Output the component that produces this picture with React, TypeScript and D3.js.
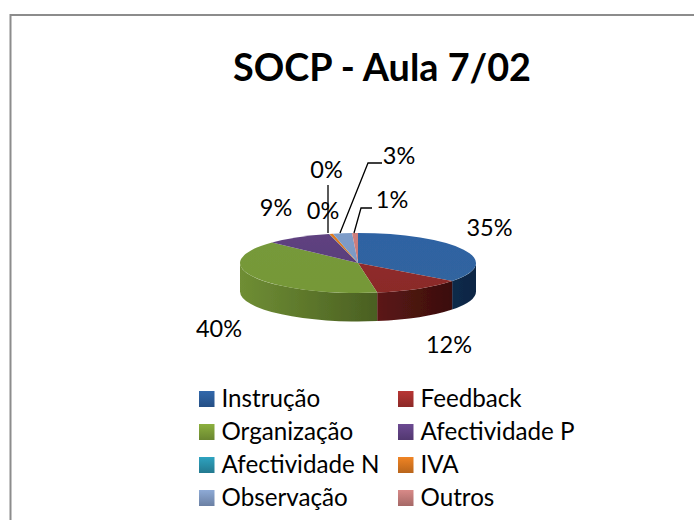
import React from "react";
import * as d3 from "d3";

const categories = ["Instrução", "Feedback", "Organização", "Afectividade P", "Afectividade N", "IVA", "Observação", "Outros"];
const values = [35.3, 12.1, 39.6, 9.05, 0.05, 0.5, 2.6, 0.8];
const percentLabels = ["35%", "12%", "40%", "9%", "0%", "0%", "3%", "1%"];
const topColors = ["#2f62a3", "#8f2c2a", "#76993a", "#5f4280", "#2b8fa8", "#e07a20", "#7d9cc9", "#cf7f7d"];
const topColorsDark = ["#30659f", "#8a2a28", "#769838", "#5a3e7c", "#2b8fa8", "#d8741c", "#7b99c4", "#c97a78"];
const wallLight = ["#102a4a", "#5c1614", "#6f8e34", "#3d2a55", "#1d5f70", "#8a4a12", "#4c6288", "#7f4a48"];
const wallDark = ["#0e2644", "#3a0f0e", "#4a5f22", "#3d2a55", "#1d5f70", "#8a4a12", "#4c6288", "#7f4a48"];
const legendTop = ["#3268ab", "#b83634", "#8cb03e", "#6c4a92", "#2ea3c0", "#f08424", "#8eaad6", "#d88a88"];
const legendBottom = ["#254f85", "#8c2927", "#6a8630", "#523870", "#23798f", "#b9651b", "#6b80a3", "#a56866"];

const CX = 358, CY = 263, RX = 118, RY = 30, DEPTH = 28.5;
const FONT = "Lato, Carlito, sans-serif";

const pieGen = d3.pie<number>().sort(null).startAngle(0).endAngle(2 * Math.PI);
const arcs = pieGen(values);
const arcGen = d3.arc<d3.PieArcDatum<number>>().innerRadius(0).outerRadius(RX);

const px = (a: number) => CX + RX * Math.sin(a);
const py = (a: number) => CY - RY * Math.cos(a);

function wallPath(a0: number, a1: number) {
  const s = Math.max(a0, Math.PI / 2);
  const e = Math.min(a1, (3 * Math.PI) / 2);
  if (e <= s) return null;
  return {
    s, e,
    d: `M${px(s)},${py(s)} A${RX},${RY} 0 0 1 ${px(e)},${py(e)} L${px(e)},${py(e) + DEPTH} A${RX},${RY} 0 0 0 ${px(s)},${py(s) + DEPTH} Z`,
  };
}

const dataLabels = [
  { x: 489.5, y: 236 },
  { x: 449, y: 353 },
  { x: 219, y: 336.5 },
  { x: 276, y: 216 },
  { x: 326.5, y: 178 },
  { x: 323, y: 219 },
  { x: 399, y: 164 },
  { x: 392, y: 208 },
];
const leaderLines = [
  { i: 4, pts: [[328, 185], [328, 233]] },
  { i: 6, pts: [[382, 163], [368, 163], [340, 233]] },
  { i: 7, pts: [[372, 208], [361, 208], [354, 233]] },
];

const legendCols = [199, 398];
const legendRows = [391, 424, 457, 490];

export default function App() {
  return (
    <svg width={694} height={520} style={{ position: "absolute", left: 0, top: 0, background: "#fff" }}>
      <defs>
        {categories.map((c, i) => (
          <linearGradient key={c} id={`lg${i}`} x1="0" y1="0" x2="0" y2="1">
            <stop offset="0" stopColor={legendTop[i]} />
            <stop offset="1" stopColor={legendBottom[i]} />
          </linearGradient>
        ))}
        {categories.map((c, i) => (
          <linearGradient key={c} id={`w${i}`} x1="0" y1="0" x2="1" y2="0">
            <stop offset="0" stopColor={wallLight[i]} />
            <stop offset="1" stopColor={wallDark[i]} />
          </linearGradient>
        ))}
        {categories.map((c, i) => (
          <linearGradient key={c} id={`t${i}`} x1="0" y1="0" x2="0" y2="1">
            <stop offset="0" stopColor={topColors[i]} />
            <stop offset="1" stopColor={topColorsDark[i]} />
          </linearGradient>
        ))}
        <filter id="soft" x="-5%" y="-5%" width="110%" height="110%">
          <feGaussianBlur stdDeviation="0.6" />
        </filter>
      </defs>
      <path d="M10.5,694 L10.5,15 L694,15" fill="none" stroke="#8c8c8c" strokeWidth={2} />
      <text x={233} y={80.5} fontFamily={FONT} fontWeight={700} fontSize={38.5} textLength={298} lengthAdjust="spacingAndGlyphs" fill="#000">SOCP - Aula 7/02</text>

      <g filter="url(#soft)">
        {arcs.map((a, i) => {
          const w = wallPath(a.startAngle, a.endAngle);
          return w ? <path key={i} d={w.d} fill={`url(#w${i})`} /> : null;
        })}
        <g transform={`translate(${CX},${CY}) scale(1,${RY / RX})`}>
          {arcs.map((a, i) => (
            <path key={i} d={arcGen(a) || ""} fill={`url(#t${i})`} />
          ))}
        </g>
      </g>

      {leaderLines.map(l => (
        <polyline key={l.i} points={l.pts.map(p => p.join(",")).join(" ")} fill="none" stroke="#000" strokeWidth={1.3} />
      ))}
      {percentLabels.map((t, i) => (
        <text key={i} x={dataLabels[i].x} y={dataLabels[i].y} textAnchor="middle" fontFamily={FONT} fontSize={23.5} fill="#000">{t}</text>
      ))}

      {categories.map((c, i) => {
        const col = legendCols[i % 2];
        const row = legendRows[Math.floor(i / 2)];
        return (
          <g key={c}>
            <rect x={col} y={row} width={15.5} height={16} fill={`url(#lg${i})`} />
            <text x={col + 22.5} y={row + 16} fontFamily={FONT} fontSize={24.2} fill="#000">{c}</text>
          </g>
        );
      })}
    </svg>
  );
}
